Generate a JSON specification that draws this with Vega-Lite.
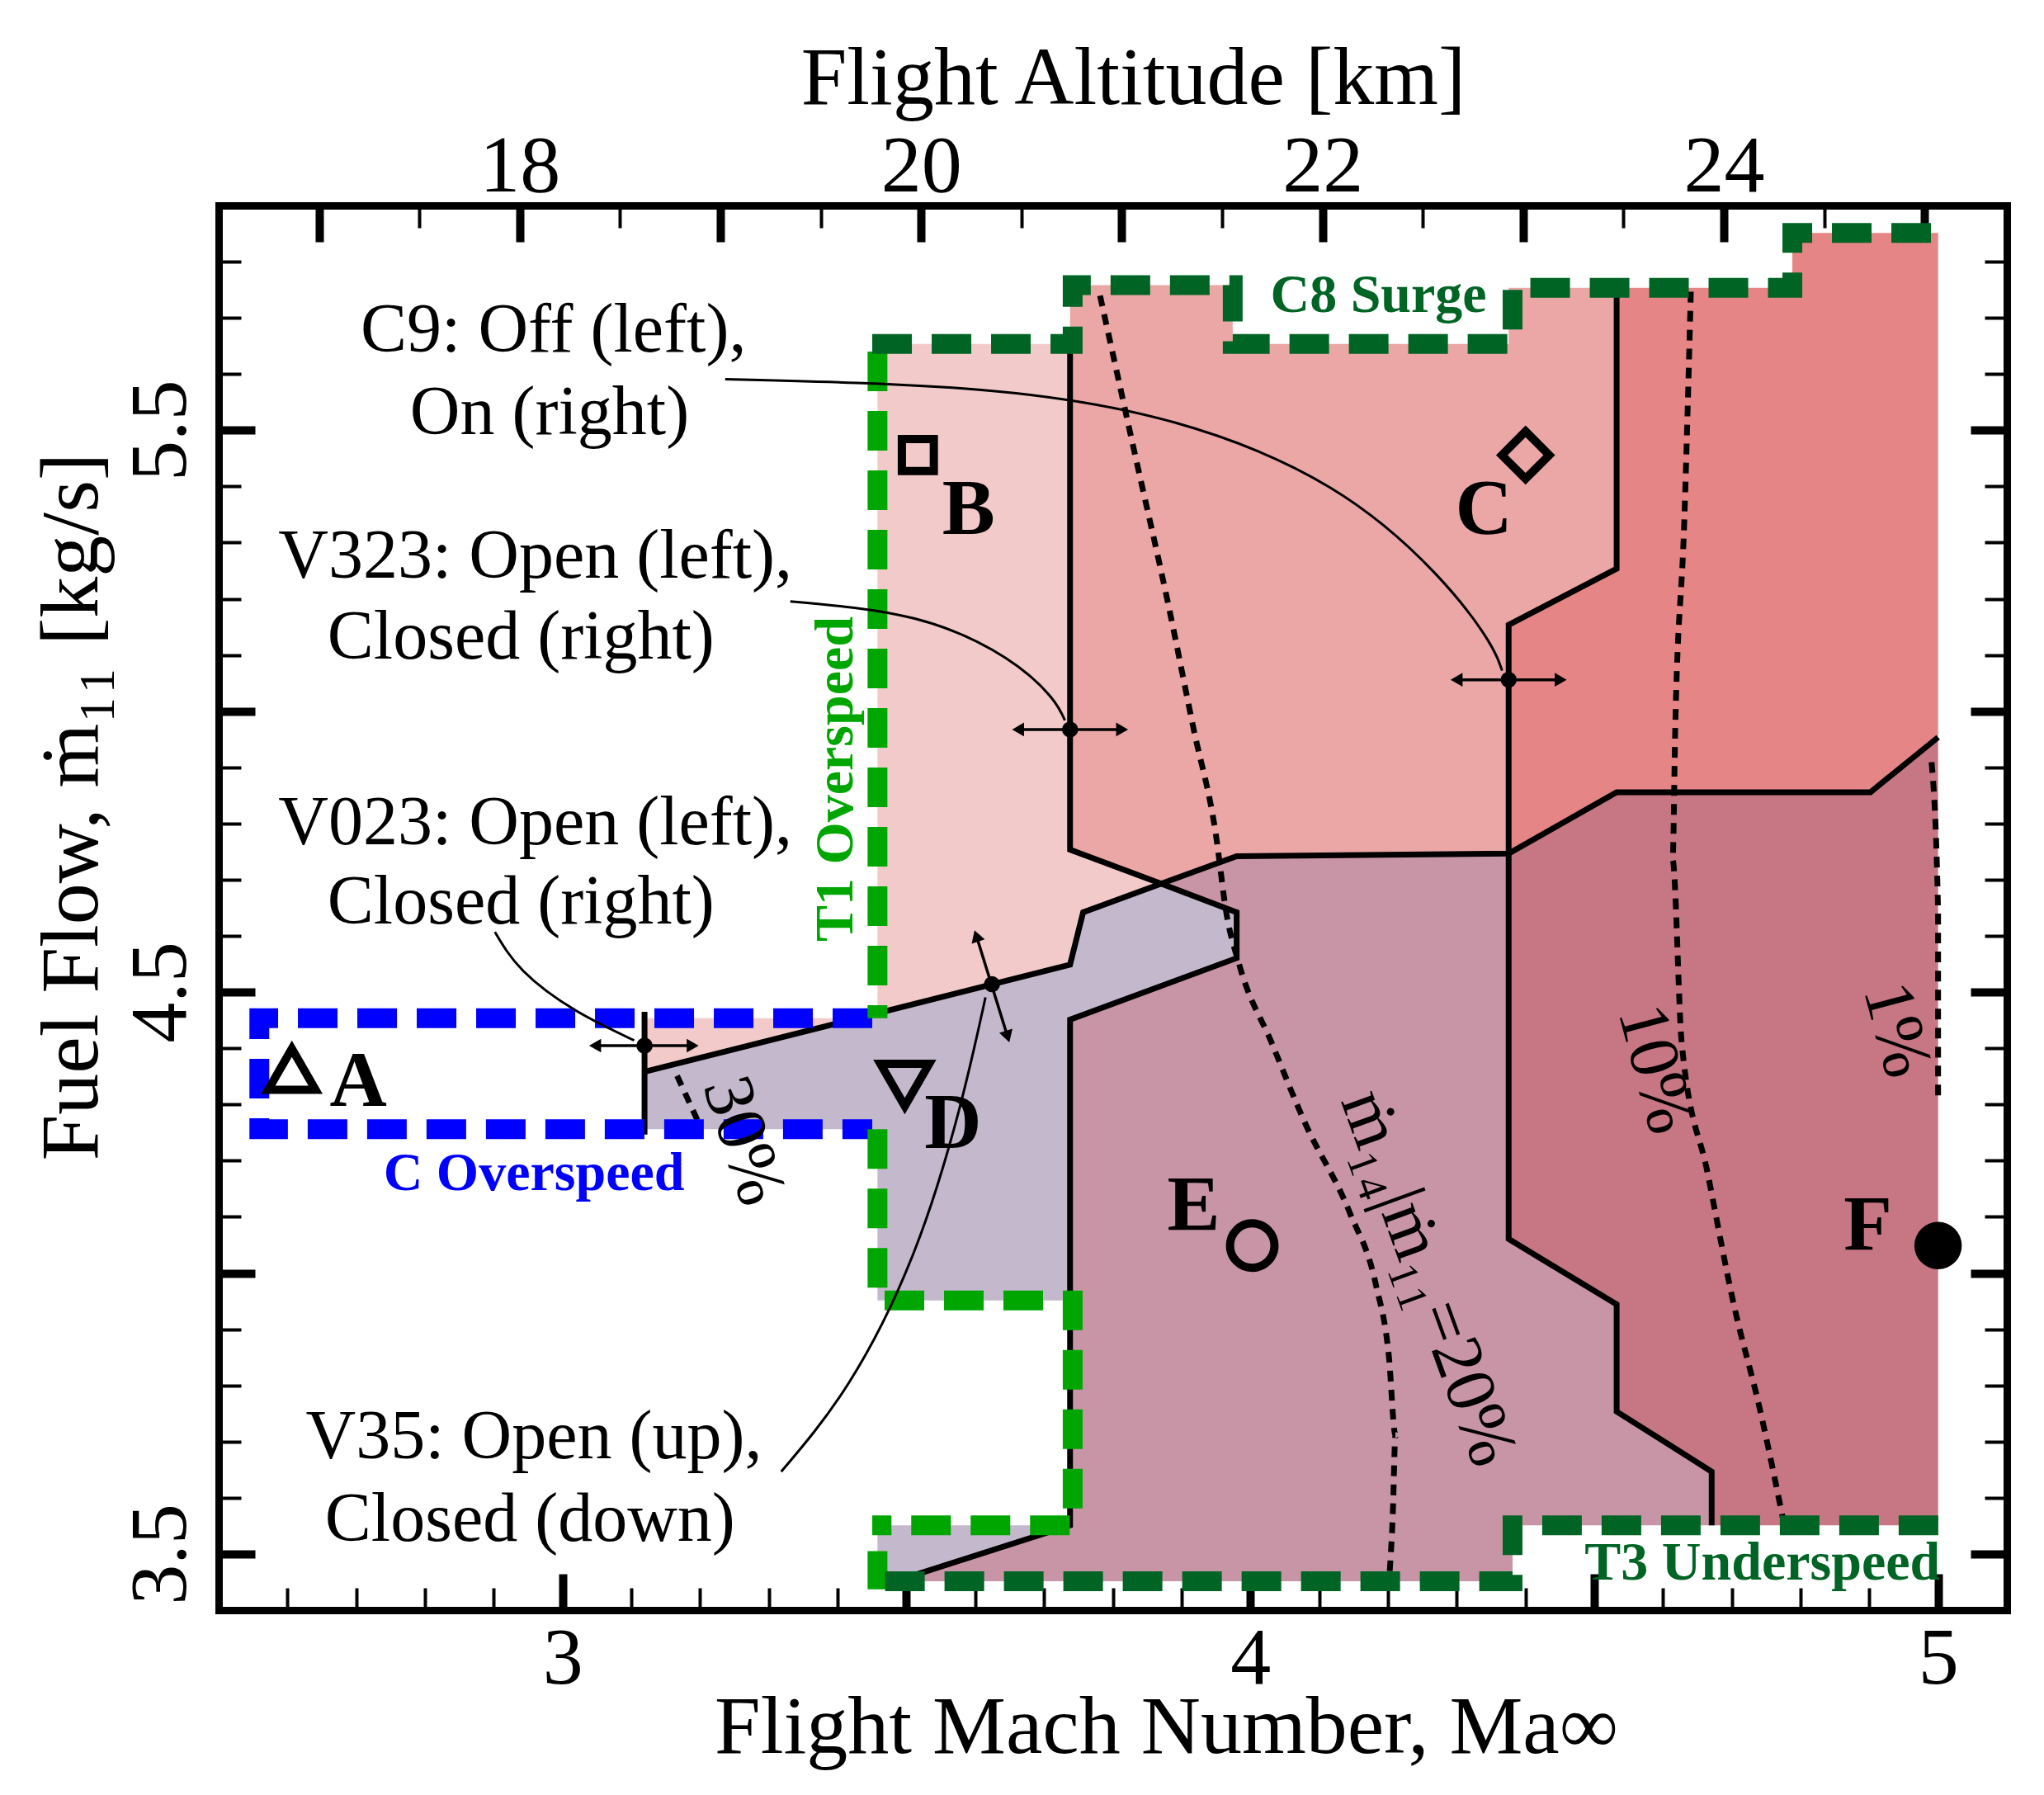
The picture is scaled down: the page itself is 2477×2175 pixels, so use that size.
{
"$schema": "https://vega.github.io/schema/vega-lite/v6.json",
"width": 2167, "height": 1702,
"autosize": {"type": "none"},
"padding": {"left": 265, "top": 249, "right": 45, "bottom": 224},
"background": "white",
"config": {
  "view": {"stroke": null},
  "font": "Liberation Serif",
  "axis": {"domainWidth": 9, "domainColor": "black", "domainCap": "square", "tickColor": "black", "grid": false,
    "labelFont": "Liberation Serif", "titleFont": "Liberation Serif", "labelColor": "black", "titleColor": "black",
    "titleFontWeight": "normal", "zindex": 1, "labelFontSize": 98, "titleFontSize": 100, "labelOverlap": false, "labelFlush": false}
},
"datasets": {
  "regions": [
    {"p":"B","r":"B","o":1,"mach":3.1192,"flow":4.3581},{"p":"B","r":"B","o":2,"mach":3.1192,"flow":4.4535},{"p":"B","r":"B","o":3,"mach":3.4579,"flow":4.4535},{"p":"B","r":"B","o":4,"mach":3.4579,"flow":5.6535},{"p":"B","r":"B","o":5,"mach":3.7379,"flow":5.6535},{"p":"B","r":"B","o":6,"mach":3.7379,"flow":4.7535},{"p":"B","r":"B","o":7,"mach":3.8704,"flow":4.693},{"p":"B","r":"B","o":8,"mach":3.7569,"flow":4.6419},{"p":"B","r":"B","o":9,"mach":3.7379,"flow":4.5488},
    {"p":"C","r":"C","o":1,"mach":3.7379,"flow":5.7581},{"p":"C","r":"C","o":2,"mach":3.9744,"flow":5.7581},{"p":"C","r":"C","o":3,"mach":3.9744,"flow":5.6535},{"p":"C","r":"C","o":4,"mach":4.3756,"flow":5.6535},{"p":"C","r":"C","o":5,"mach":4.3756,"flow":5.7535},{"p":"C","r":"C","o":6,"mach":4.5326,"flow":5.7535},{"p":"C","r":"C","o":7,"mach":4.5326,"flow":5.2535},{"p":"C","r":"C","o":8,"mach":4.3756,"flow":5.1535},{"p":"C","r":"C","o":9,"mach":4.3756,"flow":4.7465},{"p":"C","r":"C","o":10,"mach":3.9801,"flow":4.7419},{"p":"C","r":"C","o":11,"mach":3.8704,"flow":4.693},{"p":"C","r":"C","o":12,"mach":3.7379,"flow":4.7535},
    {"p":"S","r":"S","o":1,"mach":4.5326,"flow":5.7535},{"p":"S","r":"S","o":2,"mach":4.7881,"flow":5.7535},{"p":"S","r":"S","o":3,"mach":4.7881,"flow":5.8512},{"p":"S","r":"S","o":4,"mach":5.0,"flow":5.8512},{"p":"S","r":"S","o":5,"mach":5.0,"flow":4.9535},{"p":"S","r":"S","o":6,"mach":4.9016,"flow":4.8558},{"p":"S","r":"S","o":7,"mach":4.5326,"flow":4.8558},{"p":"S","r":"S","o":8,"mach":4.3756,"flow":4.7465},{"p":"S","r":"S","o":9,"mach":4.3756,"flow":5.1535},{"p":"S","r":"S","o":10,"mach":4.5326,"flow":5.2535},
    {"p":"D1","r":"D","o":1,"mach":3.1192,"flow":4.3581},{"p":"D1","r":"D","o":2,"mach":3.7379,"flow":4.5488},{"p":"D1","r":"D","o":3,"mach":3.7569,"flow":4.6419},{"p":"D1","r":"D","o":4,"mach":3.8704,"flow":4.693},{"p":"D1","r":"D","o":5,"mach":3.9801,"flow":4.6419},{"p":"D1","r":"D","o":6,"mach":3.9801,"flow":4.5605},{"p":"D1","r":"D","o":7,"mach":3.7379,"flow":4.4512},{"p":"D1","r":"D","o":8,"mach":3.7379,"flow":3.9512},{"p":"D1","r":"D","o":9,"mach":3.4579,"flow":3.9512},{"p":"D1","r":"D","o":10,"mach":3.4579,"flow":4.2558},{"p":"D1","r":"D","o":11,"mach":3.1192,"flow":4.2558},
    {"p":"D2","r":"D","o":1,"mach":3.4579,"flow":3.551},{"p":"D2","r":"D","o":2,"mach":3.7379,"flow":3.551},{"p":"D2","r":"D","o":3,"mach":3.484,"flow":3.4515},{"p":"D2","r":"D","o":4,"mach":3.4579,"flow":3.4515},
    {"p":"E","r":"E","o":1,"mach":3.8704,"flow":4.693},{"p":"E","r":"E","o":2,"mach":3.9801,"flow":4.7419},{"p":"E","r":"E","o":3,"mach":4.3756,"flow":4.7465},{"p":"E","r":"E","o":4,"mach":4.3756,"flow":4.0605},{"p":"E","r":"E","o":5,"mach":4.5326,"flow":3.9442},{"p":"E","r":"E","o":6,"mach":4.5326,"flow":3.7535},{"p":"E","r":"E","o":7,"mach":4.6708,"flow":3.6465},{"p":"E","r":"E","o":8,"mach":4.6708,"flow":3.551},{"p":"E","r":"E","o":9,"mach":4.3813,"flow":3.551},{"p":"E","r":"E","o":10,"mach":4.3813,"flow":3.4515},{"p":"E","r":"E","o":11,"mach":3.484,"flow":3.4515},{"p":"E","r":"E","o":12,"mach":3.7379,"flow":3.551},{"p":"E","r":"E","o":13,"mach":3.7379,"flow":4.4512},{"p":"E","r":"E","o":14,"mach":3.9801,"flow":4.5605},{"p":"E","r":"E","o":15,"mach":3.9801,"flow":4.6419},
    {"p":"F","r":"F","o":1,"mach":4.3756,"flow":4.7465},{"p":"F","r":"F","o":2,"mach":4.5326,"flow":4.8558},{"p":"F","r":"F","o":3,"mach":4.9016,"flow":4.8558},{"p":"F","r":"F","o":4,"mach":5.0,"flow":4.9535},{"p":"F","r":"F","o":5,"mach":5.0,"flow":3.551},{"p":"F","r":"F","o":6,"mach":4.6708,"flow":3.551},{"p":"F","r":"F","o":7,"mach":4.6708,"flow":3.6465},{"p":"F","r":"F","o":8,"mach":4.5326,"flow":3.7535},{"p":"F","r":"F","o":9,"mach":4.5326,"flow":3.9442},{"p":"F","r":"F","o":10,"mach":4.3756,"flow":4.0605}
  ],
  "bounds": [
    {"id":"L1","o":1,"mach":3.7379,"flow":5.6535},{"id":"L1","o":2,"mach":3.7379,"flow":4.7535},{"id":"L1","o":3,"mach":3.8704,"flow":4.693},{"id":"L1","o":4,"mach":3.9801,"flow":4.6419},{"id":"L1","o":5,"mach":3.9801,"flow":4.5605},{"id":"L1","o":6,"mach":3.7379,"flow":4.4512},{"id":"L1","o":7,"mach":3.7379,"flow":3.551},{"id":"L1","o":8,"mach":3.484,"flow":3.4515},
    {"id":"L2","o":1,"mach":3.1192,"flow":4.3581},{"id":"L2","o":2,"mach":3.7379,"flow":4.5488},{"id":"L2","o":3,"mach":3.7569,"flow":4.6419},{"id":"L2","o":4,"mach":3.8704,"flow":4.693},{"id":"L2","o":5,"mach":3.9801,"flow":4.7419},{"id":"L2","o":6,"mach":4.3756,"flow":4.7465},{"id":"L2","o":7,"mach":4.5326,"flow":4.8558},{"id":"L2","o":8,"mach":4.9016,"flow":4.8558},{"id":"L2","o":9,"mach":5.0,"flow":4.9535},
    {"id":"L3","o":1,"mach":4.5326,"flow":5.7535},{"id":"L3","o":2,"mach":4.5326,"flow":5.2535},{"id":"L3","o":3,"mach":4.3756,"flow":5.1535},{"id":"L3","o":4,"mach":4.3756,"flow":4.0605},{"id":"L3","o":5,"mach":4.5326,"flow":3.9442},{"id":"L3","o":6,"mach":4.5326,"flow":3.7535},{"id":"L3","o":7,"mach":4.6708,"flow":3.6465},{"id":"L3","o":8,"mach":4.6708,"flow":3.551},
    {"id":"L4","o":1,"mach":3.1192,"flow":4.4651},{"id":"L4","o":2,"mach":3.1192,"flow":4.2465}
  ],
  "contours": [
    {"id":"c20","o":1,"mach":3.7815,"flow":5.7395},{"id":"c20","o":2,"mach":3.8325,"flow":5.4558},{"id":"c20","o":3,"mach":3.8798,"flow":5.1953},{"id":"c20","o":4,"mach":3.9177,"flow":4.9674},{"id":"c20","o":5,"mach":3.9498,"flow":4.7814},{"id":"c20","o":6,"mach":3.965,"flow":4.6419},{"id":"c20","o":7,"mach":3.9839,"flow":4.5488},{"id":"c20","o":8,"mach":4.0312,"flow":4.4093},{"id":"c20","o":9,"mach":4.0785,"flow":4.2698},{"id":"c20","o":10,"mach":4.1447,"flow":4.107},{"id":"c20","o":11,"mach":4.1826,"flow":3.9791},{"id":"c20","o":12,"mach":4.2015,"flow":3.8512},{"id":"c20","o":13,"mach":4.211,"flow":3.7116},{"id":"c20","o":14,"mach":4.2072,"flow":3.5721},{"id":"c20","o":15,"mach":4.2015,"flow":3.4488},
    {"id":"c10","o":1,"mach":4.6405,"flow":5.7465},{"id":"c10","o":2,"mach":4.631,"flow":5.3395},{"id":"c10","o":3,"mach":4.6178,"flow":4.9674},{"id":"c10","o":4,"mach":4.614,"flow":4.7349},{"id":"c10","o":5,"mach":4.6272,"flow":4.4093},{"id":"c10","o":6,"mach":4.6651,"flow":4.1767},{"id":"c10","o":7,"mach":4.7029,"flow":3.9442},{"id":"c10","o":8,"mach":4.7408,"flow":3.7581},{"id":"c10","o":9,"mach":4.7748,"flow":3.5605},
    {"id":"c1","o":1,"mach":4.9905,"flow":4.9093},{"id":"c1","o":2,"mach":5.0,"flow":4.6419},{"id":"c1","o":3,"mach":5.0,"flow":4.3163},
    {"id":"c30","o":1,"mach":3.1665,"flow":4.3512},{"id":"c30","o":2,"mach":3.1987,"flow":4.2651}
  ],
  "limits": [
    {"id":"C","lim":"C Overspeed","o":1,"mach":3.4503,"flow":4.4535},{"id":"C","lim":"C Overspeed","o":2,"mach":2.5591,"flow":4.4535},{"id":"C","lim":"C Overspeed","o":3,"mach":2.5591,"flow":4.2558},{"id":"C","lim":"C Overspeed","o":4,"mach":3.4503,"flow":4.2558},
    {"id":"T1a","lim":"T1 Overspeed","o":1,"mach":3.4579,"flow":5.64},{"id":"T1a","lim":"T1 Overspeed","o":2,"mach":3.4579,"flow":4.4535},
    {"id":"T1b","lim":"T1 Overspeed","o":1,"mach":3.4579,"flow":4.2558},{"id":"T1b","lim":"T1 Overspeed","o":2,"mach":3.4579,"flow":3.9512},{"id":"T1b","lim":"T1 Overspeed","o":3,"mach":3.7417,"flow":3.9512},{"id":"T1b","lim":"T1 Overspeed","o":4,"mach":3.7417,"flow":3.551},{"id":"T1b","lim":"T1 Overspeed","o":5,"mach":3.4503,"flow":3.551},
    {"id":"T1c","lim":"T1 Overspeed","o":1,"mach":3.4579,"flow":3.505},{"id":"T1c","lim":"T1 Overspeed","o":2,"mach":3.4579,"flow":3.437},
    {"id":"S8","lim":"C8 Surge","o":1,"mach":3.4503,"flow":5.6535},{"id":"S8","lim":"C8 Surge","o":2,"mach":3.7417,"flow":5.6535},{"id":"S8","lim":"C8 Surge","o":3,"mach":3.7417,"flow":5.7581},{"id":"S8","lim":"C8 Surge","o":4,"mach":3.9744,"flow":5.7581},{"id":"S8","lim":"C8 Surge","o":5,"mach":3.9744,"flow":5.6535},{"id":"S8","lim":"C8 Surge","o":6,"mach":4.3813,"flow":5.6535},{"id":"S8","lim":"C8 Surge","o":7,"mach":4.3813,"flow":5.7535},{"id":"S8","lim":"C8 Surge","o":8,"mach":4.7881,"flow":5.7535},{"id":"S8","lim":"C8 Surge","o":9,"mach":4.7881,"flow":5.8512},{"id":"S8","lim":"C8 Surge","o":10,"mach":5.014,"flow":5.8512},
    {"id":"T3","lim":"T3 Underspeed","o":1,"mach":3.469,"flow":3.4515},{"id":"T3","lim":"T3 Underspeed","o":2,"mach":4.3813,"flow":3.4515},{"id":"T3","lim":"T3 Underspeed","o":3,"mach":4.3813,"flow":3.551},{"id":"T3","lim":"T3 Underspeed","o":4,"mach":5.014,"flow":3.551}
  ],
  "leaders": [
    {"id":"C9","o":1,"mach":3.2365,"flow":5.5907},{"id":"C9","o":2,"mach":3.6055,"flow":5.5721},{"id":"C9","o":3,"mach":3.8893,"flow":5.514},{"id":"C9","o":4,"mach":4.1164,"flow":5.3977},{"id":"C9","o":5,"mach":4.2677,"flow":5.2465},{"id":"C9","o":6,"mach":4.3434,"flow":5.1302},{"id":"C9","o":7,"mach":4.3661,"flow":5.0721},
    {"id":"V323","o":1,"mach":3.3311,"flow":5.1953},{"id":"V323","o":2,"mach":3.5109,"flow":5.1651},{"id":"V323","o":3,"mach":3.6433,"flow":5.0953},{"id":"V323","o":4,"mach":3.7096,"flow":5.0256},{"id":"V323","o":5,"mach":3.7304,"flow":4.9837},
    {"id":"V023","o":1,"mach":2.9016,"flow":4.607},{"id":"V023","o":2,"mach":2.9432,"flow":4.5372},{"id":"V023","o":3,"mach":3.0189,"flow":4.4674},{"id":"V023","o":4,"mach":3.1041,"flow":4.414},
    {"id":"V35","o":1,"mach":3.3179,"flow":3.6465},{"id":"V35","o":2,"mach":3.4163,"flow":3.8047},{"id":"V35","o":3,"mach":3.5109,"flow":4.0372},{"id":"V35","o":4,"mach":3.5771,"flow":4.293},{"id":"V35","o":5,"mach":3.6149,"flow":4.4907}
  ],
  "arrows": [
    {"id":"A1","o":1,"mach":3.0473,"flow":4.4047},{"id":"A1","o":2,"mach":3.1892,"flow":4.4047},
    {"id":"A2","o":1,"mach":3.6623,"flow":4.9674},{"id":"A2","o":2,"mach":3.8136,"flow":4.9674},
    {"id":"A3","o":1,"mach":4.2999,"flow":5.0558},{"id":"A3","o":2,"mach":4.4513,"flow":5.0558},
    {"id":"A4","o":1,"mach":3.6017,"flow":4.6},{"id":"A4","o":2,"mach":3.6471,"flow":4.4209}
  ],
  "heads": [
    {"mach":3.0473,"flow":4.4047,"heading":270},{"mach":3.1892,"flow":4.4047,"heading":90},
    {"mach":3.6623,"flow":4.9674,"heading":270},{"mach":3.8136,"flow":4.9674,"heading":90},
    {"mach":4.2999,"flow":5.0558,"heading":270},{"mach":4.4513,"flow":5.0558,"heading":90},
    {"mach":3.6017,"flow":4.6,"heading":342},{"mach":3.6471,"flow":4.4209,"heading":163}
  ],
  "pivots": [
    {"mach":3.1192,"flow":4.4047},{"mach":3.7379,"flow":4.9674},{"mach":4.3756,"flow":5.0558},{"mach":3.6244,"flow":4.514}
  ]
},
"layer": [
  {
    "encoding": {
      "x": {"field": "mach", "type": "quantitative", "scale": {"domain": [2.5, 5.1], "nice": false, "zero": false},
        "axis": {"orient": "bottom", "values": [2.6,2.7,2.8,2.9,3,3.1,3.2,3.3,3.4,3.5,3.6,3.7,3.8,3.9,4,4.1,4.2,4.3,4.4,4.5,4.6,4.7,4.8,4.9,5],
          "labelExpr": "abs(datum.value-round(datum.value))<0.001 ? format(datum.value,'d') : ''",
          "tickSize": {"condition": {"test": "abs(datum.value*2-round(datum.value*2))<0.001", "value": -44}, "value": -27},
          "tickWidth": {"condition": {"test": "abs(datum.value*2-round(datum.value*2))<0.001", "value": 10}, "value": 4},
          "labelPadding": 55, "labelBaseline": "top",
          "title": "Flight Mach Number, Ma∞", "titleX": 1148, "titleY": 172, "titleAlign": "center", "titleBaseline": "alphabetic", "titleAnchor": null}},
      "y": {"field": "flow", "type": "quantitative", "scale": {"domain": [3.4, 5.9], "nice": false, "zero": false},
        "axis": {"orient": "left", "values": [3.5,3.6,3.7,3.8,3.9,4,4.1,4.2,4.3,4.4,4.5,4.6,4.7,4.8,4.9,5,5.1,5.2,5.3,5.4,5.5,5.6,5.7,5.8],
          "labelExpr": "abs(datum.value-0.5-round(datum.value-0.5))<0.001 ? format(datum.value,'.1f') : ''",
          "tickSize": {"condition": {"test": "abs(datum.value*2-round(datum.value*2))<0.001", "value": -44}, "value": -27},
          "tickWidth": {"condition": {"test": "abs(datum.value*2-round(datum.value*2))<0.001", "value": 10}, "value": 4},
          "labelAngle": 270, "labelAlign": "center", "labelBaseline": "alphabetic", "labelPadding": 85,
          "title": "Fuel Flow, ṁ₁₁ [kg/s]", "titleX": -148, "titleY": 728, "titleAngle": 270, "titleAlign": "center", "titleBaseline": "alphabetic", "titleAnchor": null}}
    },
    "layer": [
      {"data": {"name": "regions"}, "mark": {"type": "line", "filled": true, "strokeWidth": 0, "clip": false},
        "encoding": {"detail": {"field": "p"}, "order": {"field": "o", "type": "quantitative"},
          "color": {"field": "r", "type": "nominal", "legend": null, "scale": {"domain": ["B","C","S","D","E","F"], "range": ["#F3CACA","#EBA6A6","#E68585","#C4B8CC","#C895A6","#C77683"]}}}},
      {"data": {"name": "contours"}, "mark": {"type": "line", "color": "black", "strokeWidth": 7, "strokeDash": [13, 10], "interpolate": "monotone"},
        "encoding": {"detail": {"field": "id"}, "order": {"field": "o", "type": "quantitative"}}},
      {"data": {"name": "bounds"}, "mark": {"type": "line", "color": "black", "strokeWidth": 7, "strokeJoin": "miter"},
        "encoding": {"detail": {"field": "id"}, "order": {"field": "o", "type": "quantitative"}}},
      {"data": {"name": "limits"}, "transform": [{"filter": "datum.lim == 'C Overspeed'"}],
        "mark": {"type": "line", "color": "#0000FF", "strokeWidth": 24, "strokeDash": [48, 24], "strokeCap": "butt", "strokeJoin": "miter", "clip": false},
        "encoding": {"detail": {"field": "id"}, "order": {"field": "o", "type": "quantitative"}}},
      {"data": {"name": "limits"}, "transform": [{"filter": "datum.lim == 'T1 Overspeed'"}],
        "mark": {"type": "line", "color": "#00A600", "strokeWidth": 24, "strokeDash": [48, 24], "strokeCap": "butt", "strokeJoin": "miter", "clip": false},
        "encoding": {"detail": {"field": "id"}, "order": {"field": "o", "type": "quantitative"}}},
      {"data": {"name": "limits"}, "transform": [{"filter": "datum.lim == 'C8 Surge' || datum.lim == 'T3 Underspeed'"}],
        "mark": {"type": "line", "color": "#006424", "strokeWidth": 24, "strokeDash": [48, 24], "strokeCap": "butt", "strokeJoin": "miter", "clip": false},
        "encoding": {"detail": {"field": "id"}, "order": {"field": "o", "type": "quantitative"}}},
      {"data": {"name": "leaders"}, "mark": {"type": "line", "color": "black", "strokeWidth": 3, "interpolate": "natural"},
        "encoding": {"detail": {"field": "id"}, "order": {"field": "o", "type": "quantitative"}}},
      {"data": {"name": "arrows"}, "mark": {"type": "line", "color": "black", "strokeWidth": 3.5},
        "encoding": {"detail": {"field": "id"}, "order": {"field": "o", "type": "quantitative"}}},
      {"data": {"name": "heads"}, "mark": {"type": "point", "shape": "triangle-up", "filled": true, "color": "black", "size": 280, "opacity": 1},
        "encoding": {"angle": {"field": "heading", "type": "quantitative", "scale": {"domain": [0, 360], "range": [0, 360]}}}},
      {"data": {"name": "pivots"}, "mark": {"type": "circle", "color": "black", "size": 380, "opacity": 1}},
      {"data": {"values": [{"name": "A", "mach": 2.6064, "flow": 4.3628}]}, "mark": {"type": "point", "shape": "triangle-up", "filled": false, "color": "black", "strokeWidth": 10, "size": 3300, "opacity": 1}},
      {"data": {"values": [{"name": "B", "mach": 3.5166, "flow": 5.4558}]}, "mark": {"type": "point", "shape": "square", "filled": false, "color": "black", "strokeWidth": 10, "size": 1500, "opacity": 1}},
      {"data": {"values": [{"name": "C", "mach": 4.4002, "flow": 5.4558}]}, "mark": {"type": "point", "shape": "diamond", "filled": false, "color": "black", "strokeWidth": 10, "size": 3300, "opacity": 1}},
      {"data": {"values": [{"name": "D", "mach": 3.4976, "flow": 4.3349}]}, "mark": {"type": "point", "shape": "triangle-down", "filled": false, "color": "black", "strokeWidth": 10, "size": 3500, "opacity": 1}},
      {"data": {"values": [{"name": "E", "mach": 4.0028, "flow": 4.0488}]}, "mark": {"type": "point", "shape": "circle", "filled": false, "color": "black", "strokeWidth": 10, "size": 2900, "opacity": 1}},
      {"data": {"values": [{"name": "F", "mach": 5.0, "flow": 4.0488}]}, "mark": {"type": "point", "shape": "circle", "filled": true, "color": "black", "size": 3300, "opacity": 1}},
      {"data": {"values": [
          {"label": "C9: Off (left),", "mach": 2.9868, "flow": 5.6767},
          {"label": "On (right)", "mach": 2.9811, "flow": 5.5302},
          {"label": "V323: Open (left),", "mach": 2.9603, "flow": 5.2744},
          {"label": "Closed (right)", "mach": 2.9395, "flow": 5.1302},
          {"label": "V023: Open (left),", "mach": 2.9603, "flow": 4.8},
          {"label": "Closed (right)", "mach": 2.9395, "flow": 4.6581},
          {"label": "V35: Open (up),", "mach": 2.9584, "flow": 3.707},
          {"label": "Closed (down)", "mach": 2.9527, "flow": 3.5605}]},
        "mark": {"type": "text", "font": "Liberation Serif", "fontSize": 84, "color": "black", "align": "center", "baseline": "middle"},
        "encoding": {"text": {"field": "label"}}},
      {"data": {"values": [
          {"label": "A", "mach": 2.7029, "flow": 4.3395},
          {"label": "B", "mach": 3.5904, "flow": 5.3581},
          {"label": "C", "mach": 4.3396, "flow": 5.3581},
          {"label": "D", "mach": 3.5676, "flow": 4.2651},
          {"label": "E", "mach": 3.9177, "flow": 4.1186},
          {"label": "F", "mach": 4.8978, "flow": 4.0837}]},
        "mark": {"type": "text", "font": "Liberation Serif", "fontSize": 96, "fontWeight": "bold", "color": "black", "align": "center", "baseline": "middle"},
        "encoding": {"text": {"field": "label"}}},
      {"data": {"values": [{"label": "C Overspeed", "mach": 2.9584, "flow": 4.1767}]},
        "mark": {"type": "text", "font": "Liberation Serif", "fontSize": 66, "fontWeight": "bold", "color": "#0000FF", "align": "center", "baseline": "middle"},
        "encoding": {"text": {"field": "label"}}},
      {"data": {"values": [{"label": "T1 Overspeed", "mach": 3.3974, "flow": 4.8791}]},
        "mark": {"type": "text", "font": "Liberation Serif", "fontSize": 66, "fontWeight": "bold", "color": "#00A600", "align": "center", "baseline": "middle", "angle": 270},
        "encoding": {"text": {"field": "label"}}},
      {"data": {"values": [{"label": "C8 Surge", "mach": 4.1864, "flow": 5.7395}, {"label": "T3 Underspeed", "mach": 4.7446, "flow": 3.4837}]},
        "mark": {"type": "text", "font": "Liberation Serif", "fontSize": 66, "fontWeight": "bold", "color": "#006424", "align": "center", "baseline": "middle"},
        "encoding": {"text": {"field": "label"}}},
      {"data": {"values": [{"label": "ṁ₁₄|ṁ₁₁=20%", "mach": 4.2583, "flow": 3.9907}]},
        "mark": {"type": "text", "font": "Liberation Serif", "fontSize": 86, "color": "black", "align": "center", "baseline": "middle", "angle": 70},
        "encoding": {"text": {"field": "label"}}},
      {"data": {"values": [{"label": "10%", "mach": 4.5894, "flow": 4.3628}, {"label": "1%", "mach": 4.9395, "flow": 4.4326}]},
        "mark": {"type": "text", "font": "Liberation Serif", "fontSize": 86, "color": "black", "align": "center", "baseline": "middle", "angle": 75},
        "encoding": {"text": {"field": "label"}}},
      {"data": {"values": [{"label": "30%", "mach": 3.2630, "flow": 4.2349}]},
        "mark": {"type": "text", "font": "Liberation Serif", "fontSize": 86, "color": "black", "align": "center", "baseline": "middle", "angle": 72},
        "encoding": {"text": {"field": "label"}}}
    ]
  },
  {
    "data": {"values": [{"alt": 16.5}]},
    "mark": {"type": "rule", "opacity": 0},
    "encoding": {"x": {"field": "alt", "type": "quantitative", "scale": {"domain": [16.5, 25.41], "nice": false, "zero": false},
      "axis": {"orient": "top", "values": [17,17.5,18,18.5,19,19.5,20,20.5,21,21.5,22,22.5,23,23.5,24,24.5,25],
        "labelExpr": "abs(datum.value/2-round(datum.value/2))<0.001 ? format(datum.value,'d') : ''",
        "tickSize": {"condition": {"test": "abs(datum.value-round(datum.value))<0.001", "value": -44}, "value": -27},
        "tickWidth": {"condition": {"test": "abs(datum.value-round(datum.value))<0.001", "value": 10}, "value": 4},
        "labelPadding": 62, "labelBaseline": "alphabetic",
        "title": "Flight Altitude [km]", "titleX": 1108, "titleY": -124, "titleAlign": "center", "titleBaseline": "alphabetic", "titleAnchor": null}}}
  },
  {
    "data": {"values": [{"flow": 3.4}]},
    "mark": {"type": "rule", "opacity": 0},
    "encoding": {"y": {"field": "flow", "type": "quantitative", "scale": {"domain": [3.4, 5.9], "nice": false, "zero": false},
      "axis": {"orient": "right", "values": [3.5,3.6,3.7,3.8,3.9,4,4.1,4.2,4.3,4.4,4.5,4.6,4.7,4.8,4.9,5,5.1,5.2,5.3,5.4,5.5,5.6,5.7,5.8],
        "labels": false, "title": null,
        "tickSize": {"condition": {"test": "abs(datum.value*2-round(datum.value*2))<0.001", "value": -44}, "value": -27},
        "tickWidth": {"condition": {"test": "abs(datum.value*2-round(datum.value*2))<0.001", "value": 10}, "value": 4}}}}
  }
],
"resolve": {"scale": {"x": "independent"}, "axis": {"x": "independent", "y": "independent"}}
}
